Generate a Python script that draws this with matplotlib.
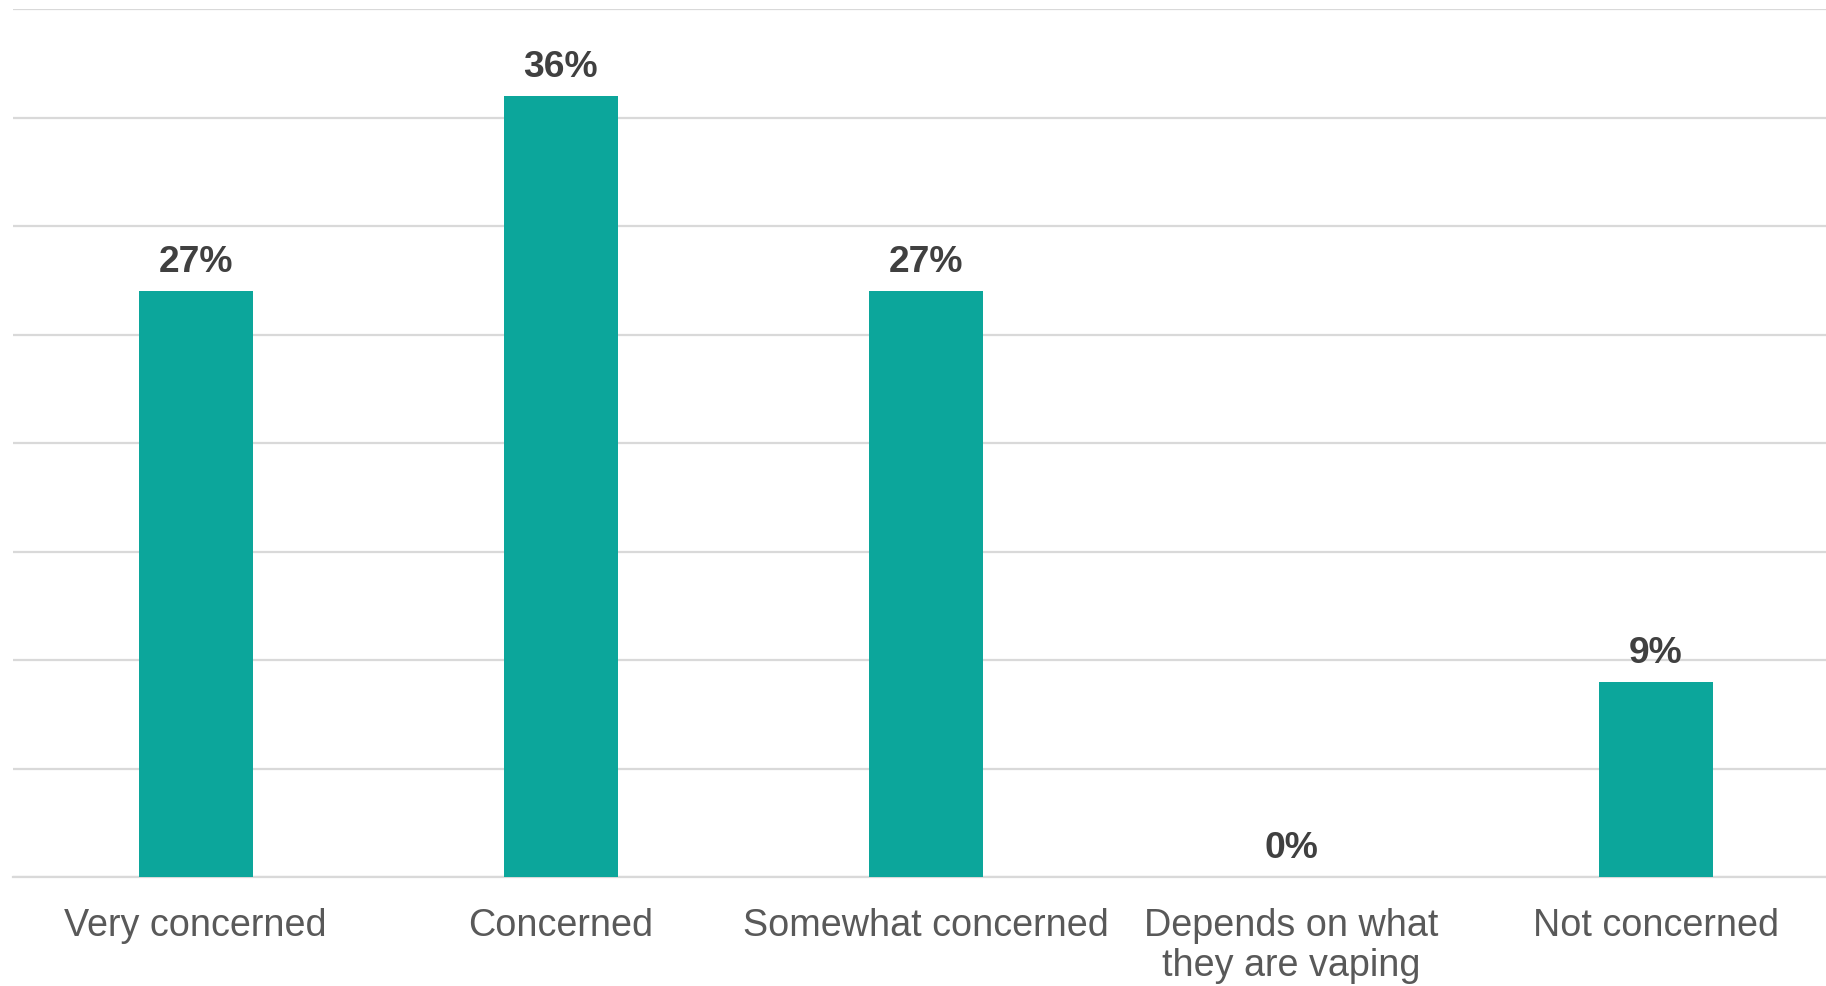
import matplotlib.pyplot as plt

# survey responses, share of respondents (%)
categories = ["Very concerned", "Concerned", "Somewhat concerned",
              "Depends on what\nthey are vaping", "Not concerned"]
shares = [27, 36, 27, 0, 9]

bar_color = "#0ca69b"
grid_color = "#d9d9d9"

plt.rcParams["font.family"] = ["Liberation Sans", "DejaVu Sans"]

fig = plt.figure(figsize=(18.26, 9.86), dpi=100)
ax = fig.add_axes([0.0072, 0.1105, 0.9997, 0.88])

x = range(len(categories))
ax.bar(x, shares, width=0.313, color=bar_color, zorder=3)

# value labels above each bar
for xi, v in zip(x, shares):
    ax.annotate(f"{v}%", (xi, v), xytext=(0, 8), textcoords="offset points",
                ha="center", va="bottom", fontsize=26.8, fontweight="bold",
                color="#404040")

ax.set_xlim(-0.5, len(categories) - 0.5)
ax.set_ylim(0, 40)
ax.set_yticks(range(0, 41, 5))
ax.yaxis.grid(True, color=grid_color, linewidth=1.6, zorder=0)
ax.tick_params(axis="y", left=False, labelleft=False)
ax.tick_params(axis="x", length=0, pad=22)
ax.set_xticks(list(x))
ax.set_xticklabels(categories, fontsize=27.2, color="#595959", linespacing=1.17)

for side in ["top", "right", "left"]:
    ax.spines[side].set_visible(False)
ax.spines["bottom"].set_color(grid_color)
ax.spines["bottom"].set_linewidth(1.6)

fig.savefig("out.png", dpi=100)
